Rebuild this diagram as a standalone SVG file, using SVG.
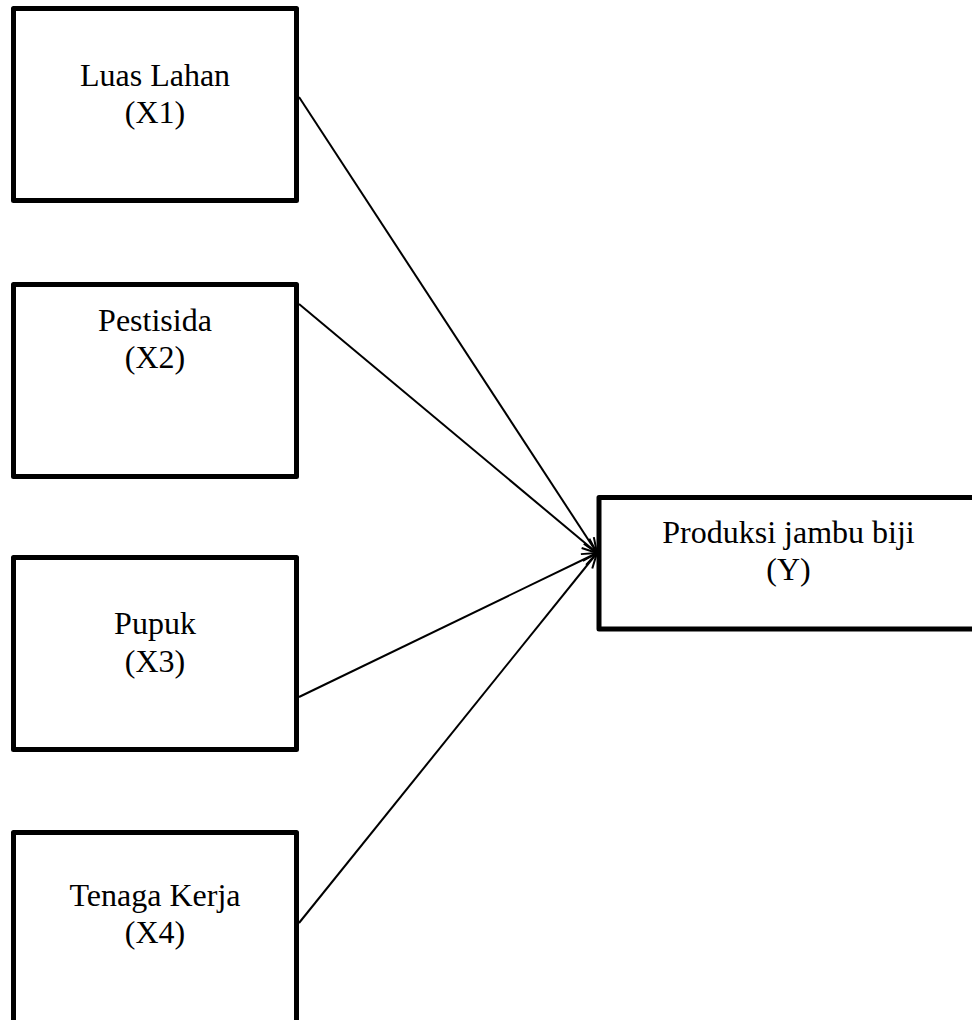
<svg xmlns="http://www.w3.org/2000/svg" width="972" height="1020" viewBox="0 0 972 1020">
  <style>
    .box { fill: #ffffff; stroke: #000000; stroke-width: 5; stroke-linejoin: round; }
    .lbl { font-family: "Liberation Serif", "Times New Roman", serif; font-size: 32px; fill: #000000; text-anchor: middle; }
    .conn { fill: none; stroke: #000000; stroke-width: 2; marker-end: url(#arrow); }
  </style>
  <defs>
    <marker id="arrow" markerUnits="userSpaceOnUse" markerWidth="24" markerHeight="24" viewBox="-20 -10 24 20" refX="0" refY="0" orient="auto">
      <path d="M -15 -6 L 0 0 L -15 6" fill="none" stroke="#000000" stroke-width="2"/>
    </marker>
  </defs>
  <rect width="972" height="1020" fill="#ffffff"/>

  <g id="connectors">
    <line class="conn" x1="299" y1="97" x2="597" y2="553"/>
    <line class="conn" x1="299" y1="304" x2="597" y2="553"/>
    <line class="conn" x1="299" y1="697" x2="597" y2="553"/>
    <line class="conn" x1="299" y1="923" x2="597" y2="553"/>
  </g>

  <g id="node-x1">
    <rect class="box" x="13.5" y="8.5" width="283" height="192"/>
    <text class="lbl" x="155" y="86">Luas Lahan</text>
    <text class="lbl" x="155" y="123">(X1)</text>
  </g>
  <g id="node-x2">
    <rect class="box" x="13.5" y="284.5" width="283" height="192"/>
    <text class="lbl" x="155" y="331">Pestisida</text>
    <text class="lbl" x="155" y="368">(X2)</text>
  </g>
  <g id="node-x3">
    <rect class="box" x="13.5" y="557.5" width="283" height="192"/>
    <text class="lbl" x="155" y="634">Pupuk</text>
    <text class="lbl" x="155" y="672">(X3)</text>
  </g>
  <g id="node-x4">
    <rect class="box" x="13.5" y="832.5" width="283" height="200"/>
    <text class="lbl" x="155" y="906">Tenaga Kerja</text>
    <text class="lbl" x="155" y="943">(X4)</text>
  </g>
  <g id="node-y">
    <rect class="box" x="599" y="497.5" width="390" height="131.5"/>
    <text class="lbl" x="788.5" y="543">Produksi jambu biji</text>
    <text class="lbl" x="788.5" y="580">(Y)</text>
  </g>
</svg>
